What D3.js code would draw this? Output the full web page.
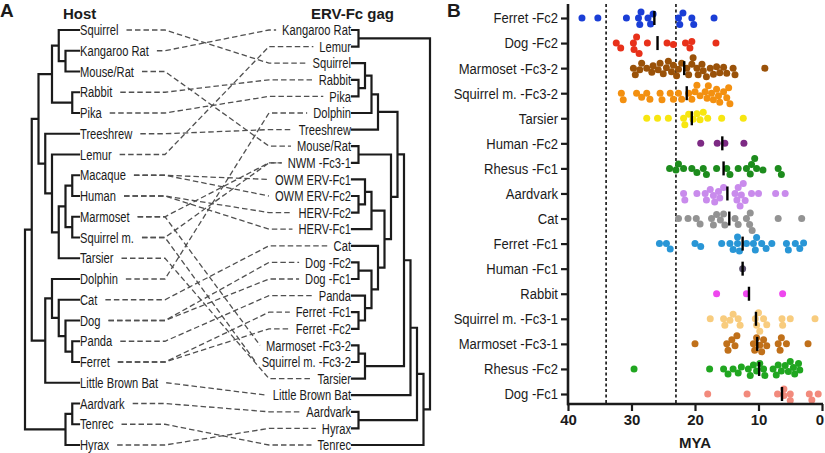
<!DOCTYPE html>
<html><head><meta charset="utf-8">
<script src="https://cdn.jsdelivr.net/npm/d3@7"></script>
<style>body{margin:0;background:#fff} svg{display:block} text{font-family:"Liberation Sans",Arial,Helvetica,sans-serif}</style>
</head><body><svg id="c" width="825" height="453"></svg>
<script>
// ---------- Panel A data ----------
const hostRodents = "(Squirrel,(Kangaroo Rat,Mouse/Rat)2)3";
const hostGlires = "(" + hostRodents + ",(Rabbit,Pika)1)4";
const hostPrimates = "(Lemur,(((Macaque,Human)1,(Marmoset,Squirrel m.)1)2,Tarsier)3)4";
const hostEuarch = "(" + hostGlires + ",(Treeshrew," + hostPrimates + ")5)6";
const hostLaur = "((Dolphin,(Cat,(Dog,(Panda,Ferret)1)2)3)4,Little Brown Bat)5";
const hostAfro = "((Aardvark,Tenrec)1,Hyrax)2";
const hostTree = "((" + hostEuarch + "," + hostLaur + ")7," + hostAfro + ")8";

const ervA = "(Kangaroo Rat,Lemur)1";
const ervB = "(((Squirrel,(Rabbit,Pika)1)2,Dolphin)3,Treeshrew)4";
const ervC = "(Mouse/Rat,NWM -Fc3-1)1";
const ervD = "((OWM ERV-Fc1,(OWM ERV-Fc2,HERV-Fc2)1)2,HERV-Fc1)3";
const ervE = "(Cat,((Dog -Fc2,Dog -Fc1)1,(Panda,(Ferret -Fc1,Ferret -Fc2)1)2)3)4";
const ervF = "((Marmoset -Fc3-2,Squirrel m. -Fc3-2)1,Tarsier)2";
const ervBCDE = "(" + ervB + ",(" + ervC + ",(" + ervD + "," + ervE + ")5)6)7";
const ervTree = "(" + ervA + ",((((" + ervBCDE + "," + ervF + ")8,Little Brown Bat)9,(Aardvark,Hyrax)1)10,Tenrec)11)12";

const links = [["Squirrel","Squirrel"],["Kangaroo Rat","Kangaroo Rat"],["Mouse/Rat","Mouse/Rat"],
 ["Rabbit","Rabbit"],["Pika","Pika"],["Treeshrew","Treeshrew"],["Lemur","Lemur"],
 ["Macaque","OWM ERV-Fc1"],["Macaque","OWM ERV-Fc2"],["Human","HERV-Fc2"],["Human","HERV-Fc1"],
 ["Marmoset","NWM -Fc3-1"],["Marmoset","Marmoset -Fc3-2"],["Squirrel m.","NWM -Fc3-1"],["Squirrel m.","Squirrel m. -Fc3-2"],
 ["Tarsier","Tarsier"],["Dolphin","Dolphin"],["Cat","Cat"],["Dog","Dog -Fc2"],["Dog","Dog -Fc1"],
 ["Panda","Panda"],["Ferret","Ferret -Fc1"],["Ferret","Ferret -Fc2"],["Little Brown Bat","Little Brown Bat"],
 ["Aardvark","Aardvark"],["Tenrec","Tenrec"],["Hyrax","Hyrax"]];

// ---------- Panel B data ----------
const rowLabels = ["Ferret -Fc2","Dog -Fc2","Marmoset -Fc3-2","Squirrel m. -Fc3-2","Tarsier","Human -Fc2","Rhesus -Fc1","Aardvark","Cat","Ferret -Fc1","Human -Fc1","Rabbit","Squirrel m. -Fc3-1","Marmoset -Fc3-1","Rhesus -Fc2","Dog -Fc1"];
const ferretFc2 = [37.8,35.3,30.8,28.9,28.7,28.5,27.4,27.0,26.6,22.6,22.4,21.9,20.5,20.2,17.0];
const dogFc2 = [32.4,31.7,29.7,29.6,29.2,28.8,27.5,24.4,23.4,21.5,20.8,20.5,16.7];
const marmosetFc32 = [29.7,29.4,28.7,28.4,27.6,26.8,26.6,25.8,25.5,25.0,24.5,24.2,23.7,23.4,22.9,22.6,22.1,21.3,21.0,20.5,20.3,19.7,19.5,18.9,18.7,18.2,17.6,17.1,16.6,16.1,15.5,15.0,14.0,13.7,9.0];
const squirrelFc32 = [31.6,31.3,29.2,28.4,27.6,27.1,25.5,25.2,23.9,23.4,22.6,22.1,21.0,20.5,20.0,19.7,19.2,18.4,18.1,17.9,17.4,17.1,16.6,16.3,16.1,15.5,15.0,14.7,14.5];
const tarsier = [27.6,25.9,24.2,21.8,21.6,21.0,20.3,19.7,19.2,18.7,18.0,15.8,12.4];
const humanFc2 = [19.1,16.5,15.3,12.3];
const rhesusFc1 = [24.0,23.0,22.6,21.8,20.5,19.7,18.7,18.2,16.6,15.0,14.5,13.2,11.9,11.3,11.1,10.6,10.3,9.3,6.9,6.4];
const aardvark = [21.8,21.6,19.7,18.4,18.2,17.6,17.1,16.9,16.3,16.1,15.5,13.7,13.4,13.2,12.9,12.7,12.4,12.1,11.1,10.0,7.3,5.8];
const cat = [22.6,21.1,19.8,19.2,17.4,17.1,16.6,16.0,15.5,15.3,13.7,13.2,11.9,11.4,11.3,11.0,6.9,3.2];
const ferretFc1 = [25.6,24.5,23.9,20.0,19.1,15.8,14.5,14.0,13.3,13.0,13.3,11.9,10.8,10.5,10.3,9.5,8.8,7.9,5.6,5.3,4.2,3.5,2.9];
const humanFc1 = [12.5];
const rabbit = [16.6,11.9,6.2];
const squirrelFc31 = [17.6,15.5,15.3,14.5,14.0,13.2,12.9,10.5,10.3,10.0,9.8,9.2,8.7,6.3,6.2,5.0,1.1];
const marmosetFc31 = [20.0,15.0,14.8,14.2,13.7,13.4,10.8,10.6,10.3,9.8,9.5,9.2,8.7,6.9,6.6,6.4,5.6,2.2];
const rhesusFc2 = [29.6,17.7,15.5,14.8,14.0,13.2,12.7,11.6,11.3,10.8,10.3,9.8,9.2,9.0,7.7,7.2,6.9,6.4,5.8,5.3,5.0,4.5,4.3,3.7,3.5];
const dogFc1 = [18.0,11.8,7.0,6.0,6.0,5.0,5.0,2.0,1.6,0.6];
const rowValues = [ferretFc2,dogFc2,marmosetFc32,squirrelFc32,tarsier,humanFc2,rhesusFc1,aardvark,cat,ferretFc1,humanFc1,rabbit,squirrelFc31,marmosetFc31,rhesusFc2,dogFc1];
const medians = [26.4,25.9,21.7,21.3,20.5,15.7,15.5,14.9,14.6,12.5,12.5,11.5,10.4,10.2,9.9,6.3];
const rowColors = ["#1a3ed6","#e8311a","#9a5209","#f39010","#f7e611","#7d2a84","#1d8c1d","#c98bec","#939393","#2996d6","#5e5570","#ee47ee","#f8cc7e","#c0701a","#20a620","#f28a7c"];
const epochBounds = [34, 23];
const xTicks = [40, 30, 20, 10, 0];

// ---------- helpers ----------
const svg = d3.select('#c');
const INK = '#1b1b1b';
function label(g, x, y, str, o = {}) {
  return g.append('text')
    .attr('transform', `translate(${x},${y}) scale(${o.sx || 1},1)`)
    .attr('text-anchor', o.anchor || 'start').attr('dy', '0.36em')
    .attr('font-size', o.size || 13).attr('font-weight', o.weight || 'normal')
    .attr('fill', o.fill || INK).text(str);
}
function parseNewick(s) {
  let i = 0;
  function readLabel() { let l = ''; while (i < s.length && !',()'.includes(s[i])) l += s[i++]; return l.trim(); }
  function node() {
    if (s[i] === '(') {
      i++; const children = [node()];
      while (s[i] === ',') { i++; children.push(node()); }
      i++; return { level: +readLabel(), children };
    }
    return { name: readLabel(), level: 0 };
  }
  return node();
}
function layoutTree(str, xOfLevel) {
  const root = d3.hierarchy(parseNewick(str), d => d.children);
  const leaves = root.leaves().map(d => d.data.name);
  const y = d3.scalePoint().domain(leaves).range([30, 445]);
  root.eachAfter(n => {
    n.px = xOfLevel(n.data.level);
    n.py = n.children ? (n.children[0].py + n.children[n.children.length - 1].py) / 2 : y(n.data.name);
  });
  return { root, y };
}
function drawTree(g, root) {
  let d = '';
  root.each(n => {
    if (!n.children) return;
    const c = n.children;
    d += `M${n.px},${c[0].py}V${c[c.length - 1].py}`;
    c.forEach(ch => { d += `M${n.px},${ch.py}H${ch.px}`; });
  });
  g.append('path').attr('d', d).attr('fill', 'none').attr('stroke', INK)
    .attr('stroke-width', 2.2).attr('stroke-linecap', 'square');
}

// ---------- Panel A ----------
const gA = svg.append('g');
const xHost = d3.scaleLinear().domain([0, 8]).range([79, 25]);
const xErv = d3.scaleLinear().domain([0, 12]).range([352, 430]);
const H = layoutTree(hostTree, xHost);
const E = layoutTree(ervTree, xErv);
drawTree(gA, H.root);
drawTree(gA, E.root);

const SX = 0.77, FS = 14.5;
const hostEnd = {}, ervStart = {};
H.root.leaves().forEach(n => {
  const t = label(gA, 80, n.py, n.data.name, { sx: SX, size: FS });
  hostEnd[n.data.name] = 80 + t.node().getComputedTextLength() * SX;
});
E.root.leaves().forEach(n => {
  const t = label(gA, 351, n.py, n.data.name, { sx: SX, size: FS, anchor: 'end' });
  ervStart[n.data.name] = 351 - t.node().getComputedTextLength() * SX;
});
links.forEach(([h, e]) => {
  const x0 = hostEnd[h] + 8, y0 = H.y(h), x3 = ervStart[e] - 6, y3 = E.y(e);
  const b1 = Math.max(165, x0), b2 = Math.min(269, x3);
  gA.append('path').attr('d', `M${x0},${y0}H${b1}L${b2},${y3}H${x3}`)
    .attr('fill', 'none').attr('stroke', '#505050').attr('stroke-width', 1.3)
    .attr('stroke-dasharray', '5.5,3');
});
label(gA, 0, 10, 'A', { size: 19, weight: 900 });
label(gA, 63, 14, 'Host', { size: 15, weight: 'bold' });
label(gA, 352.5, 14, 'ERV-Fc gag', { size: 15, weight: 'bold', anchor: 'middle' });

// ---------- Panel B ----------
const gB = svg.append('g');
const x = d3.scaleLinear().domain([40, 0]).range([568, 822]);
const y = d3.scalePoint().domain(rowLabels).range([18, 394]);
label(gB, 447, 10, 'B', { size: 19, weight: 900 });

epochBounds.forEach(v => {
  gB.append('line').attr('x1', x(v)).attr('x2', x(v)).attr('y1', 4).attr('y2', 404)
    .attr('stroke', '#111').attr('stroke-width', 1.6).attr('stroke-dasharray', '3,2.5');
});

const R = 3.5;
function swarm(vals) {
  const pts = vals.map(v => ({ v, px: x(v) })).sort((a, b) => a.px - b.px);
  const placed = [], minD = 2 * R * 0.92;
  pts.forEach(p => {
    let dy = 0;
    for (let k = 0; k < 120; k++) {
      const cand = k === 0 ? 0 : (k % 2 ? 1 : -1) * Math.ceil(k / 2) * 0.5;
      if (placed.every(q => (q.px - p.px) ** 2 + (q.dy - cand) ** 2 >= minD * minD)) { dy = cand; break; }
    }
    p.dy = dy; placed.push(p);
  });
  return pts;
}
rowLabels.forEach((lab, i) => {
  const cy = y(lab);
  gB.append('g').selectAll('circle').data(swarm(rowValues[i])).join('circle')
    .attr('cx', d => d.px).attr('cy', d => cy + d.dy).attr('r', R).attr('fill', rowColors[i]);
  gB.append('line').attr('x1', x(medians[i])).attr('x2', x(medians[i]))
    .attr('y1', cy - 7).attr('y2', cy + 7).attr('stroke', '#000').attr('stroke-width', 2.4);
});

const gx = gB.append('g').attr('transform', 'translate(0,404)')
  .call(d3.axisBottom(x).tickValues(xTicks).tickSize(7).tickSizeOuter(0).tickFormat(d3.format('d')));
gx.select('.domain').remove();
gx.selectAll('.tick line').attr('stroke', INK).attr('stroke-width', 2.2);
gx.selectAll('.tick text').attr('font-size', 15).attr('font-weight', 'bold').attr('fill', INK)
  .attr('font-family', '"Liberation Sans",Arial,sans-serif')
  .attr('dx', d => d === 0 ? -2.5 : 0);
gB.append('line').attr('x1', 567).attr('x2', 823).attr('y1', 404).attr('y2', 404)
  .attr('stroke', INK).attr('stroke-width', 2.6);

const gy = gB.append('g').attr('transform', 'translate(568,0)')
  .call(d3.axisLeft(y).tickSize(7).tickSizeOuter(0));
gy.select('.domain').remove();
gy.selectAll('.tick text').remove();
gy.selectAll('.tick line').attr('stroke', INK).attr('stroke-width', 2.2);
gB.append('line').attr('x1', 568).attr('x2', 568).attr('y1', 4).attr('y2', 405.3)
  .attr('stroke', INK).attr('stroke-width', 2.6);
rowLabels.forEach(lab => label(gB, 558, y(lab), lab, { sx: 0.87, size: 15, anchor: 'end' }));
label(gB, 695, 443, 'MYA', { size: 15, weight: 'bold', anchor: 'middle' });
</script></body></html>
